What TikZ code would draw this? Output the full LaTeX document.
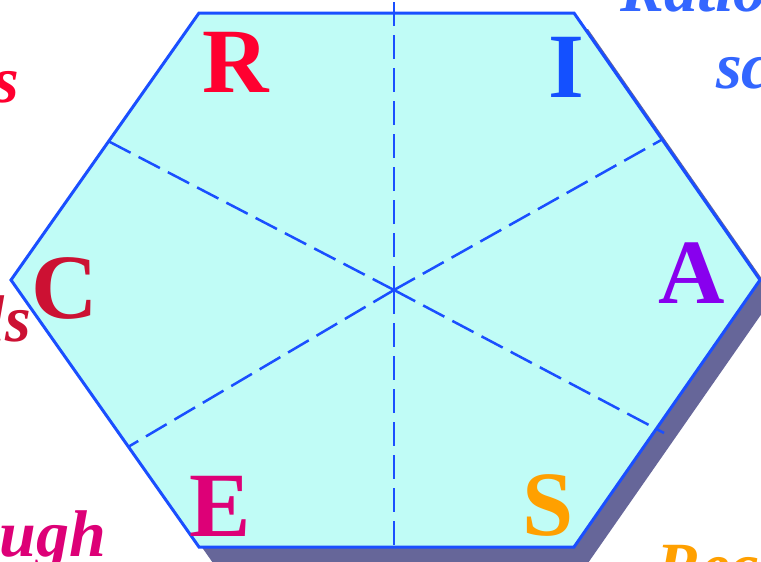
\documentclass[tikz,border=0pt]{standalone}
\usepackage{fontspec}
\setmainfont{Liberation Serif}
\begin{document}
\begin{tikzpicture}[x=1pt,y=-1pt,
  bigletter/.style={font=\fontsize{92}{92}\selectfont\bfseries, inner sep=0pt, anchor=base},
  outerword/.style={font=\fontsize{66}{66}\selectfont\bfseries\itshape, inner sep=0pt},
  hexline/.style={draw=hexblue, line width=3pt, line join=miter},
  ray/.style={draw=hexblue, line width=2.5pt, dash pattern=on 24pt off 9pt}]
\definecolor{hexblue}{RGB}{26,79,255}
\definecolor{hexfill}{RGB}{192,252,246}
\definecolor{shadowc}{RGB}{102,102,153}
\definecolor{cR}{RGB}{255,0,48}
\definecolor{cI}{RGB}{20,80,255}
\definecolor{cC}{RGB}{204,17,51}
\definecolor{cA}{RGB}{136,0,238}
\definecolor{cE}{RGB}{221,0,119}
\definecolor{cS}{RGB}{255,160,0}
\definecolor{cblue}{RGB}{51,102,255}
\useasboundingbox (0,0) rectangle (761,562);
\clip (0,0) rectangle (761,562);
\fill[white] (0,0) rectangle (761,562);
% shadow
\fill[shadowc] (213,29) -- (588,29) -- (774,296) -- (588,563) -- (213,563) -- (25,296) -- cycle;
% hexagon
\path[hexline, fill=hexfill] (199,13) -- (574,13) -- (760,280) -- (574,547) -- (199,547) -- (11,280) -- cycle;
% rays
\coordinate (o) at (394,290);
\coordinate (t) at (394,-4);
\coordinate (b) at (394,547);
\coordinate (ul) at (108,141);
\coordinate (lr) at (664,433);
\coordinate (ll) at (128,447);
\coordinate (ur) at (663,139);
\foreach \p in {t,b,ul,lr,ll,ur} \draw[ray] (o) -- (\p);
% letters
\node[bigletter, text=cR] (R) at (236,92) {R};
\node[bigletter, text=cI] (I) at (566,97) {I};
\node[bigletter, text=cC] (C) at (65,318) {C};
\node[bigletter, text=cA] (A) at (692,303) {A};
\node[bigletter, text=cE] (E) at (220,536) {E};
\node[bigletter, text=cS] (S) at (548,535) {S};
% outer partial words
\node[outerword, text=cR, anchor=base east] (w1) at (19,102) {s};
\node[outerword, text=cC, anchor=base east] (w2) at (31,341) {ls};
\node[outerword, text=cE, anchor=base east] (w3) at (106,556) {ough};
\node[outerword, text=cblue, anchor=base west] (w4) at (620,11) {Ratio};
\node[outerword, text=cblue, anchor=base west] (w5) at (716,88) {sc};
\node[outerword, text=cS, anchor=base west] (w6) at (656,588) {Reco};
\end{tikzpicture}
\end{document}
